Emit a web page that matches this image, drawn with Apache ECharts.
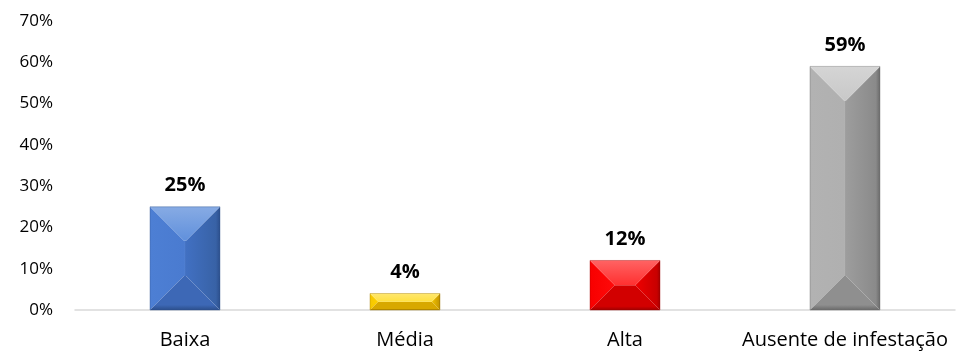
<!DOCTYPE html>
<html>
<head>
<meta charset="utf-8">
<script src="https://cdn.jsdelivr.net/npm/echarts@6/dist/echarts.min.js"></script>
<style>
  html, body { margin: 0; padding: 0; background: #fff; }
  #chart { width: 956px; height: 353px; }
</style>
</head>
<body>
<div id="chart"></div>
<script>
// Infestation level shares
const categories = ['Baixa', 'Média', 'Alta', 'Ausente de infestação'];
const shares = [0.25, 0.04, 0.12, 0.59];
const yTicks = [0, 0.1, 0.2, 0.3, 0.4, 0.5, 0.6, 0.7];

// Bevel facet colours for each bar: top, left, right, bottom, front (left/right halves), edge
const palettes = [
  { top: '#6090dc', left: '#4d7fd4', right: '#3862a6', bottom: '#3d68b6', frontL: '#4a7bd0', frontR: '#4170c2', edge: '#2c4f8c' },
  { top: '#ffe040', left: '#f5c800', right: '#c89a00', bottom: '#d8a800', frontL: '#ffd000', frontR: '#f2c200', edge: '#a07800' },
  { top: '#ff3030', left: '#f80000', right: '#c80000', bottom: '#d20000', frontL: '#ff0a0a', frontR: '#f00000', edge: '#a00000' },
  { top: '#c8c8c8', left: '#b2b2b2', right: '#8a8a8a', bottom: '#8f8f8f', frontL: '#b0b0b0', frontR: '#9d9d9d', edge: '#6a6a6a' }
];

const FONT = '"Open Sans", "Noto Sans", sans-serif';

function poly(points, fill) {
  return { type: 'polygon', shape: { points: points }, style: { fill: fill } };
}

function renderBevelBar(params, api) {
  const idx = api.value(0);
  const val = api.value(1);
  const top = api.coord([idx, val]);
  const base = api.coord([idx, 0]);
  const band = api.size([1, 0])[0];
  const w = band * 0.318;
  const x0 = top[0] - w / 2, x1 = top[0] + w / 2;
  const y0 = top[1], y1 = base[1];
  const h = y1 - y0;
  const d = Math.min(w / 2, h / 2, 34);
  const p = palettes[idx];
  const children = [
    { type: 'rect', shape: { x: x0 + d, y: y0 + d, width: Math.max(0, w - 2 * d), height: Math.max(0, h - 2 * d) },
      style: { fill: new echarts.graphic.LinearGradient(0, 0, 1, 0, [
        { offset: 0, color: p.frontL }, { offset: 0.5, color: p.frontL },
        { offset: 0.5, color: p.frontR }, { offset: 1, color: p.frontR }]) } },
    poly([[x0, y0], [x0 + d, y0 + d], [x0 + d, y1 - d], [x0, y1]],
      new echarts.graphic.LinearGradient(0, 0, 1, 0, [{ offset: 0, color: p.left }, { offset: 1, color: p.frontL }])),
    poly([[x1, y0], [x1 - d, y0 + d], [x1 - d, y1 - d], [x1, y1]],
      new echarts.graphic.LinearGradient(1, 0, 0, 0, [{ offset: 0, color: p.edge }, { offset: 0.12, color: p.right }, { offset: 1, color: p.frontR }])),
    poly([[x0, y1], [x1, y1], [x1 - d, y1 - d], [x0 + d, y1 - d]],
      new echarts.graphic.LinearGradient(0, 1, 0, 0, [{ offset: 0, color: p.edge }, { offset: 0.15, color: p.bottom }, { offset: 1, color: p.bottom }])),
    poly([[x0, y0], [x1, y0], [x1 - d, y0 + d], [x0 + d, y0 + d]],
      new echarts.graphic.LinearGradient(0, 0, 0, 1, [{ offset: 0, color: echarts.color.lift(p.top, 0.25) }, { offset: 1, color: p.top }])),
    { type: 'rect', shape: { x: x0, y: y0, width: w, height: h },
      style: { fill: 'none', stroke: p.edge, lineWidth: 0.8, opacity: 0.5 } },
    { type: 'text', x: top[0], y: y0 - 21,
      style: { text: Math.round(val * 100) + '%', fill: '#000', font: 'bold 20px ' + FONT,
               align: 'center', verticalAlign: 'middle' } }
  ];
  return { type: 'group', children: children };
}

const chart = echarts.init(document.getElementById('chart'), null, { renderer: 'canvas' });
chart.setOption({
  animation: false,
  backgroundColor: '#ffffff',
  grid: { left: 75, right: 1, top: 21, bottom: 43, containLabel: false },
  xAxis: {
    type: 'category',
    data: categories,
    axisLine: { lineStyle: { color: '#d9d9d9', width: 1.5 } },
    axisTick: { show: false },
    axisLabel: { color: '#000', fontFamily: FONT, fontSize: 20, margin: 20, interval: 0, hideOverlap: false }
  },
  yAxis: {
    type: 'value',
    min: yTicks[0],
    max: yTicks[yTicks.length - 1],
    interval: 0.1,
    splitLine: { show: false },
    axisLine: { show: false },
    axisTick: { show: false },
    axisLabel: { color: '#000', fontFamily: FONT, fontSize: 17, margin: 22,
                 formatter: v => Math.round(v * 100) + '%' }
  },
  series: [{
    type: 'custom',
    renderItem: renderBevelBar,
    encode: { x: 0, y: 1 },
    data: shares.map((v, i) => [i, v])
  }]
});
</script>
</body>
</html>
